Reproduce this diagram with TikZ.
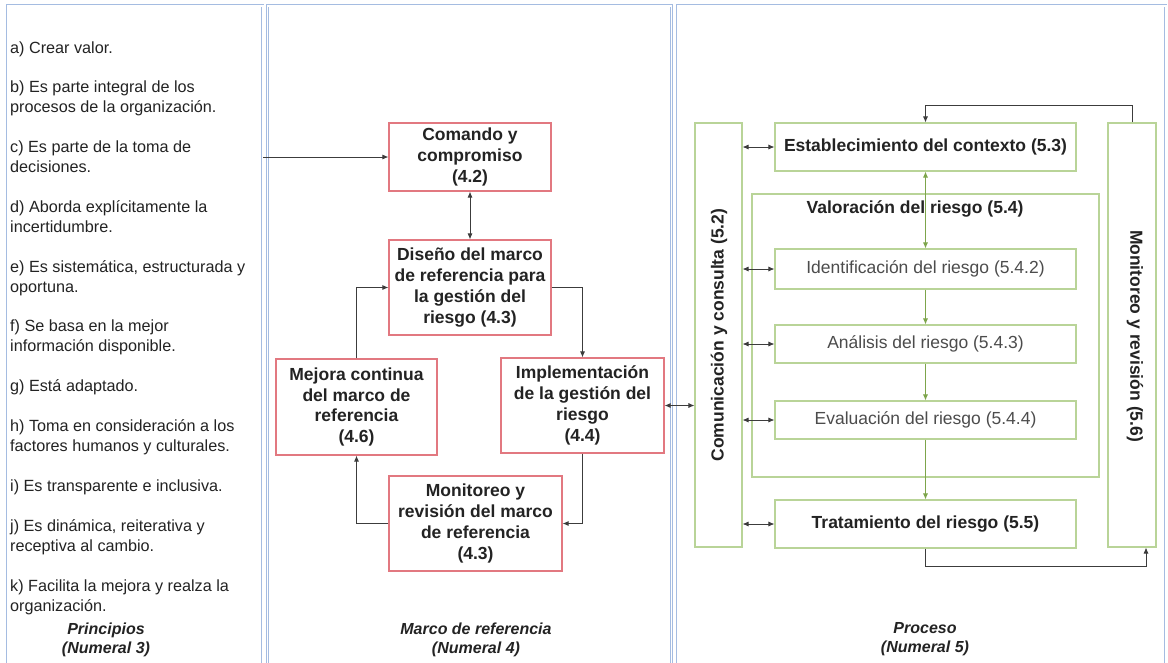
\documentclass[tikz,border=0pt]{standalone}
\usepackage{fontspec}
\setmainfont{Liberation Sans}
\usetikzlibrary{arrows.meta,calc}
\definecolor{panelblue}{RGB}{165,188,225}
\definecolor{boxred}{RGB}{226,120,128}
\definecolor{boxgreen}{RGB}{185,212,152}
\definecolor{arrgreen}{RGB}{125,165,75}
\definecolor{txt}{RGB}{35,35,35}
\definecolor{lgray}{RGB}{60,60,60}
\tikzset{
  panel/.style={draw=panelblue, line width=0.8pt, double=white, double distance=1.4pt, inner sep=0pt},
  redbox/.style={draw=boxred, line width=1.2pt, fill=white, align=center, text=txt,
    font=\fontsize{17.5}{20.8}\selectfont\bfseries, inner sep=2pt},
  grbox/.style={draw=boxgreen, line width=1.1pt, fill=white, align=center, text=txt, inner sep=2pt},
  plain/.style={font=\fontsize{17.5}{21}\selectfont, text=black!70},
  bold/.style={font=\fontsize{17.5}{21}\selectfont\bfseries, text=txt},
  item/.style={anchor=base west, align=left, text=txt, inner sep=0pt,
    font=\fontsize{16.2}{19.93}\selectfont},
  caption/.style={align=center, text=txt, inner sep=0pt,
    font=\fontsize{16}{19}\selectfont\bfseries\itshape},
  arr/.style={-{Latex[length=6pt,width=5pt]}, draw=lgray, line width=0.8pt},
  darr/.style={{Latex[length=6pt,width=5pt]}-{Latex[length=6pt,width=5pt]}, draw=lgray, line width=0.8pt},
  garr/.style={-{Latex[length=6pt,width=5pt]}, draw=arrgreen, line width=0.8pt},
  gdarr/.style={{Latex[length=6pt,width=5pt]}-{Latex[length=6pt,width=5pt]}, draw=arrgreen, line width=0.8pt},
}
\begin{document}
\begin{tikzpicture}[x=1pt,y=-1pt]
\useasboundingbox (0,0) rectangle (1168,662);
\fill[white] (0,0) rectangle (1168,662);
% panels
\node[panel, minimum width=255pt, minimum height=675pt, anchor=north west] (pL) at (7.5,5.5) {};
\node[panel, minimum width=404pt, minimum height=675pt, anchor=north west] (pM) at (267,5.5) {};
\node[panel, minimum width=488pt, minimum height=675pt, anchor=north west] (pR) at (677.5,5.5) {};

% principles (base anchor = baseline of last line)
\node[item] (ia) at (10,53) {a) Crear valor.};
\node[item] (ib) at (10,112.8) {b) Es parte integral de los\\procesos de la organización.};
\node[item] (ic) at (10,172.6) {c) Es parte de la toma de\\decisiones.};
\node[item] (id) at (10,232.3) {d) Aborda explícitamente la\\incertidumbre.};
\node[item] (ie) at (10,292.1) {e) Es sistemática, estructurada y\\oportuna.};
\node[item] (if) at (10,351.9) {f) Se basa en la mejor\\información disponible.};
\node[item] (ig) at (10,391.8) {g) Está adaptado.};
\node[item] (ih) at (10,451.6) {h) Toma en consideración a los\\factores humanos y culturales.};
\node[item] (ii) at (10,491.5) {i) Es transparente e inclusiva.};
\node[item] (ij) at (10,551.2) {j) Es dinámica, reiterativa y\\receptiva al cambio.};
\node[item] (ik) at (10,611) {k) Facilita la mejora y realza la\\organización.};
\node[caption] (capL) at (106,639.5) {Principios\\(Numeral 3)};

% framework
\node[redbox, minimum width=162pt, minimum height=68pt] (com) at (470,157) {Comando y\\compromiso\\(4.2)};
\node[redbox, minimum width=162pt, minimum height=95pt] (dis) at (470,287.5) {Diseño del marco\\de referencia para\\la gestión del\\riesgo (4.3)};
\node[redbox, minimum width=161pt, minimum height=96pt] (mej) at (356.5,407) {Mejora continua\\del marco de\\referencia\\(4.6)};
\node[redbox, minimum width=163pt, minimum height=95pt] (imp) at (582.5,405.5) {Implementación\\de la gestión del\\riesgo\\(4.4)};
\node[redbox, minimum width=173pt, minimum height=95pt] (mon) at (475.5,523.5) {Monitoreo y\\revisión del marco\\de referencia\\(4.3)};
\node[caption] (capM) at (476,639.5) {Marco de referencia\\(Numeral 4)};

\draw[arr] (pL.east |- com.west) -- (com.west);
\draw[darr] (com.south) -- (dis.north);
\draw[arr] (dis.east) -| (imp.north);
\draw[arr] (imp.south) |- (mon.east);
\draw[arr] (mon.west) -| (mej.south);
\draw[arr] (mej.north) |- (dis.west);

% process
\node[grbox, minimum width=47pt, minimum height=424pt] (comm) at (718.5,335) {};
\node[bold, rotate=90] (commt) at (719,335) {Comunicación y consulta (5.2)};
\node[grbox, minimum width=48pt, minimum height=424pt] (monr) at (1132,335) {};
\node[bold, rotate=-90] (monrt) at (1135,336) {Monitoreo y revisión (5.6)};
\node[grbox, minimum width=347pt, minimum height=283pt] (val) at (925.5,335.5) {};
\node[bold] (valt) at (915,209) {Valoración del riesgo (5.4)};
\node[grbox, bold, minimum width=301pt, minimum height=48pt] (est) at (925.5,147) {Establecimiento del contexto (5.3)};
\node[grbox, plain, minimum width=301pt, minimum height=40pt] (ide) at (925.5,269) {Identificación del riesgo (5.4.2)};
\node[grbox, plain, minimum width=301pt, minimum height=38pt] (ana) at (925.5,344) {Análisis del riesgo (5.4.3)};
\node[grbox, plain, minimum width=301pt, minimum height=38pt] (eva) at (925.5,420) {Evaluación del riesgo (5.4.4)};
\node[grbox, bold, minimum width=301pt, minimum height=48pt] (tra) at (925.5,524) {Tratamiento del riesgo (5.5)};
\node[caption] (capR) at (925,639.5) {Proceso\\(Numeral 5)};

\draw[gdarr] (est.south) -- (ide.north);
\draw[garr] (ide.south) -- (ana.north);
\draw[garr] (ana.south) -- (eva.north);
\draw[garr] (eva.south) -- (tra.north);

\draw[darr] (imp.east) -- (imp.east -| comm.west);
\draw[darr] (comm.east |- est.west) -- (est.west);
\draw[darr] (comm.east |- ide.west) -- (ide.west);
\draw[darr] (comm.east |- ana.west) -- (ana.west);
\draw[darr] (comm.east |- eva.west) -- (eva.west);
\draw[darr] (comm.east |- tra.west) -- (tra.west);

\coordinate (topturn) at (1132,105);
\draw[arr] (monr.north) -- (topturn) -| (est.north);
\coordinate (botturn) at (1146,566);
\draw[arr] (tra.south) |- (botturn) -- (botturn |- monr.south);
\end{tikzpicture}
\end{document}
